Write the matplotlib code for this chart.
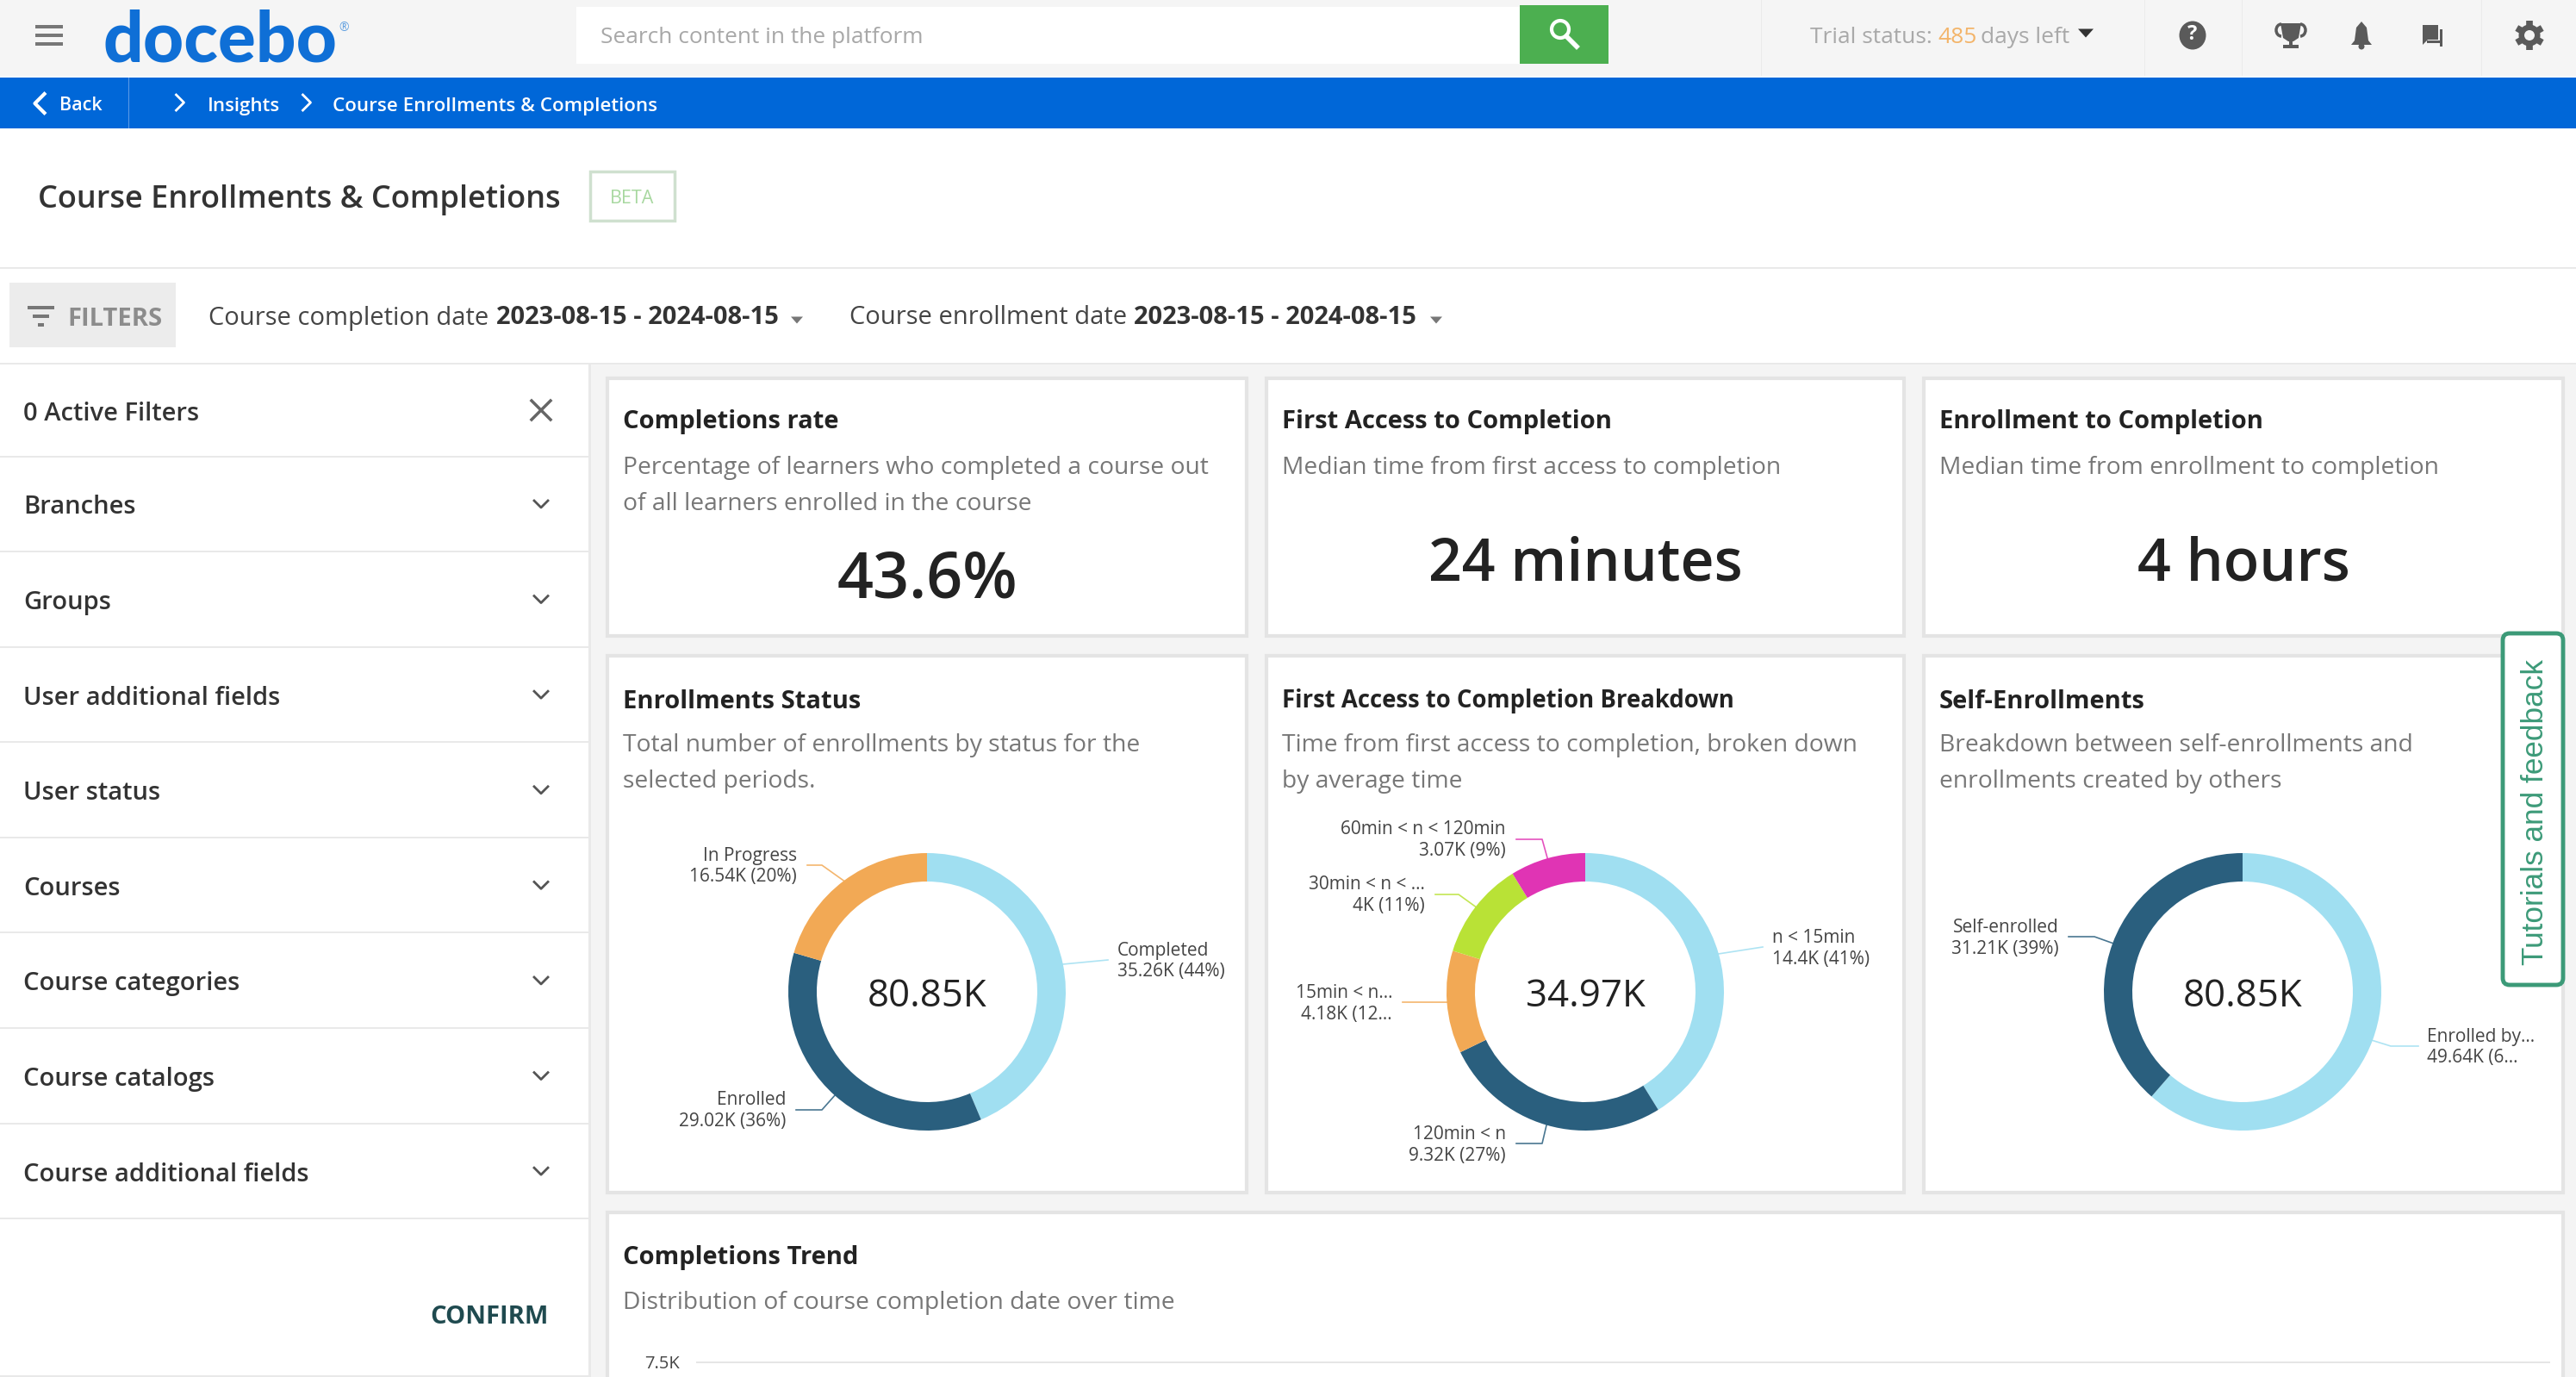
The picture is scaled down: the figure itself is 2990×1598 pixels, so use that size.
import matplotlib
matplotlib.use('Agg')
import matplotlib.pyplot as plt
import matplotlib.patches as mpatches
import numpy as np

W, H = 2990, 1598

# chart data
status_labels = ['Completed', 'Enrolled', 'In Progress']
status_values = [35.26, 29.02, 16.54]
status_text = ['35.26K (44%)', '29.02K (36%)', '16.54K (20%)']

breakdown_labels = ['n < 15min', '120min < n', '15min < n...', '30min < n < ...', '60min < n < 120min']
breakdown_values = [14.4, 9.32, 4.18, 4.0, 3.07]
breakdown_text = ['14.4K (41%)', '9.32K (27%)', '4.18K (12...', '4K (11%)', '3.07K (9%)']

self_labels = ['Enrolled by...', 'Self-enrolled']
self_values = [49.64, 31.21]
self_text = ['49.64K (6...', '31.21K (39%)']

sidebar_items = ['Branches', 'Groups', 'User additional fields', 'User status', 'Courses',
                 'Course categories', 'Course catalogs', 'Course additional fields']

LIGHT = '#a0dff1'
DARK = '#2a5f7e'
ORANGE = '#f2a955'
LIME = '#b9e236'
MAGENTA = '#e034b4'
BG = '#f4f4f4'
LINE = '#e9e9e9'
FONT = 'Open Sans'

plt.rcParams['font.family'] = [FONT, 'DejaVu Sans']

fig = plt.figure(figsize=(W / 100, H / 100), dpi=100, facecolor='white')
ax = fig.add_axes([0, 0, 1, 1])
ax.set_xlim(0, W)
ax.set_ylim(H, 0)
ax.axis('off')


def rect(x0, y0, x1, y1, fc, ec='none', lw=0, z=1):
    ax.add_patch(mpatches.Rectangle((x0, y0), x1 - x0, y1 - y0, fc=fc, ec=ec, lw=lw, zorder=z))


def txt(x, y, s, size, color='#333333', weight='normal', ha='left', **kw):
    # open sans sits a bit high with va=center, hence the +4
    return ax.text(x, y + 4, s, fontsize=size, color=color, fontweight=weight, ha=ha, va='center', zorder=5, **kw)


def chevron_down(x, y, c='#555555', s=8):
    ax.plot([x - s, x, x + s], [y - s / 2, y + s / 2, y - s / 2], color=c, lw=2, zorder=5)


def chevron_side(x, y, d=1, c='white', s=9, lw=2):
    ax.plot([x - d * s / 2, x + d * s / 2, x - d * s / 2], [y - s, y, y + s], color=c, lw=lw, zorder=5)


def tri_down(x, y, c='#666666', s=7):
    ax.add_patch(mpatches.Polygon([(x - s, y - s / 2), (x + s, y - s / 2), (x, y + s / 2 + 1)], fc=c, ec='none', zorder=5))


# page background pieces
rect(0, 0, W, 88, '#f5f5f5')
rect(0, 90, W, 149, '#0067d8')
rect(685, 422, W, H, BG)
rect(0, 310, W, 312, LINE)
rect(0, 421, W, 423, LINE)
rect(683, 422, 686, H, LINE)
rect(0, 1596, 685, H, LINE)

# top bar
for y in [31, 41, 51]:
    rect(41, y - 2, 73, y + 2, '#777777', z=3)
ax.text(119, 72, 'docebo', fontsize=59, color='#0f6fd6', fontweight='black', family='Lato',
        ha='left', va='baseline', zorder=5)
ax.text(399, 33, '®', fontsize=10, color='#5f9fe0', ha='center', va='center', zorder=5)
rect(669, 8, 1764, 74, 'white')
rect(1764, 6, 1867, 74, '#4caf50', z=2)
txt(697, 39, 'Search content in the platform', 18.9, '#a8a8a8')
ax.add_patch(mpatches.Circle((1811, 34), 10, fc='none', ec='white', lw=3, zorder=5))
ax.plot([1818, 1830], [42, 54], color='white', lw=4, zorder=5)

for x in [2044, 2489, 2602, 2880]:
    rect(x, 0, x + 1, 88, '#ebebeb', z=2)
txt(2101, 40, 'Trial status:', 19, '#a9a9a9')
txt(2249, 40, '485', 19, '#f3b469')
txt(2299, 40, 'days left', 19, '#a9a9a9')
tri_down(2421, 38, '#333333', 9)

# toolbar icons
ICON = '#5a5a5a'
ax.add_patch(mpatches.Ellipse((2545, 41), 31, 33, fc=ICON, ec='none', zorder=4))
txt(2545, 36, '?', 17, 'white', 'bold', ha='center')
ax.add_patch(mpatches.Polygon([(2647, 27), (2671, 27), (2668, 44), (2662, 48), (2656, 48), (2650, 44)], fc=ICON, ec='none', zorder=4))
ax.add_patch(mpatches.Arc((2648, 35), 12, 14, theta1=90, theta2=270, ec=ICON, lw=2.5, zorder=4))
ax.add_patch(mpatches.Arc((2670, 35), 12, 14, theta1=-90, theta2=90, ec=ICON, lw=2.5, zorder=4))
rect(2657, 47, 2661, 52, ICON, z=4)
rect(2650, 52, 2668, 56, ICON, z=4)
ax.add_patch(mpatches.Polygon([(2741, 25), (2747, 32), (2749, 47), (2753, 52), (2729, 52), (2733, 47), (2735, 32)], fc=ICON, ec='none', zorder=4))
ax.add_patch(mpatches.Circle((2741, 54), 3.5, fc=ICON, ec='none', zorder=4))
rect(2812, 29, 2830, 46, ICON, z=5)
ax.add_patch(mpatches.Polygon([(2812, 46), (2812, 52), (2818, 46)], fc=ICON, ec='none', zorder=5))
rect(2817, 47, 2835, 50, ICON, z=3)
rect(2832, 34, 2835, 54, ICON, z=3)
for a in np.arange(6) * np.pi / 3 + np.pi / 2:
    ax.plot([2936, 2936 + 17 * np.cos(a)], [41, 41 + 17 * np.sin(a)], color=ICON, lw=5.5, solid_capstyle='butt', zorder=4)
ax.add_patch(mpatches.Circle((2936, 41), 12.5, fc=ICON, ec='none', zorder=4))
ax.add_patch(mpatches.Circle((2936, 41), 6, fc='#f5f5f5', ec='none', zorder=5))

# blue bar
chevron_side(46, 120, d=-1, s=11, lw=3)
txt(69, 119, 'Back', 15.5, 'white', 'semibold')
rect(149, 90, 150, 149, '#5b9be6', z=3)
chevron_side(209, 119)
txt(241, 119, 'Insights', 16, 'white', 'semibold')
chevron_side(356, 119)
txt(386, 119, 'Course Enrollments & Completions', 16.1, 'white', 'semibold')

# page title
txt(44, 228, 'Course Enrollments & Completions', 26, '#333333', 'semibold')
ax.add_patch(mpatches.Rectangle((685, 199), 98, 57, fc='white', ec='#cfe0cf', lw=2.5, zorder=3))
txt(734, 227, 'BETA', 15.5, '#a8d8a0', ha='center')

# filter row
rect(11, 328, 204, 403, '#ececec', z=2)
for x0, x1, y in [(32, 63, 357), (38, 57, 367), (44, 51, 377)]:
    rect(x0, y - 2, x1, y + 2, '#777777', z=3)
txt(78, 366, 'FILTERS', 21, '#8c8c8c', 'bold')
txt(242, 365, 'Course completion date', 21, '#444444')
txt(576, 365, '2023-08-15 - 2024-08-15', 21, '#333333', 'bold')
tri_down(925, 371, '#777777', 7)
txt(986, 365, 'Course enrollment date', 21, '#444444')
txt(1316, 365, '2023-08-15 - 2024-08-15', 21, '#333333', 'bold')
tri_down(1667, 371, '#777777', 7)

# sidebar
txt(27, 476, '0 Active Filters', 21, '#333333', 'semibold')
ax.plot([617, 639], [465, 487], color='#666666', lw=2.5, zorder=5)
ax.plot([617, 639], [487, 465], color='#666666', lw=2.5, zorder=5)
rect(0, 529, 685, 531, LINE)
for i, item in enumerate(sidebar_items):
    y = 585 + i * 110.6
    txt(27, y, item, 21, '#333333', 'semibold')
    chevron_down(628, y)
    rect(0, y + 54, 685, y + 56, LINE)
txt(637, 1524, 'CONFIRM', 21, '#1f4a4f', 'bold', ha='right')


# cards
def card(x0, y0, x1, y1):
    ax.add_patch(mpatches.Rectangle((x0, y0), x1 - x0, y1 - y0, fc='white', ec='#e4e4e4', lw=3, zorder=2))


columns = [(705, 1447), (1470, 2210), (2233, 2975)]
top_titles = ['Completions rate', 'First Access to Completion', 'Enrollment to Completion']
top_desc = [['Percentage of learners who completed a course out', 'of all learners enrolled in the course'],
            ['Median time from first access to completion'],
            ['Median time from enrollment to completion']]
top_big = ['43.6%', '24 minutes', '4 hours']
top_big_y = [671, 652, 652]
top_big_size = [53, 49, 49]
mid_titles = ['Enrollments Status', 'First Access to Completion Breakdown', 'Self-Enrollments']
mid_title_size = [21, 19.8, 21]
mid_desc = [['Total number of enrollments by status for the', 'selected periods.'],
            ['Time from first access to completion, broken down', 'by average time'],
            ['Breakdown between self-enrollments and', 'enrollments created by others']]

for c, (x0, x1) in enumerate(columns):
    card(x0, 439, x1, 738)
    txt(x0 + 18, 486, top_titles[c], 21, '#222222', 'bold')
    for j, line in enumerate(top_desc[c]):
        txt(x0 + 18, 539 + j * 42, line, 20.3, '#777777')
    txt((x0 + x1) / 2, top_big_y[c], top_big[c], top_big_size[c], '#222222', 'semibold', ha='center')

    card(x0, 761, x1, 1384)
    txt(x0 + 18, 810, mid_titles[c], mid_title_size[c], '#222222', 'bold')
    for j, line in enumerate(mid_desc[c]):
        txt(x0 + 18, 861 + j * 42, line, 20.3, '#777777')

ax.add_patch(mpatches.Rectangle((705, 1407), 2270, 300, fc='white', ec='#e4e4e4', lw=3, zorder=2))
txt(723, 1455, 'Completions Trend', 21, '#222222', 'bold')
txt(723, 1508, 'Distribution of course completion date over time', 20.3, '#777777')
txt(748, 1579, '7.5K', 14.5, '#444444')
rect(808, 1580, 2960, 1582, '#e6e6e6', z=3)

# donuts
R = 161
RING = 33


def donut(cx, cy, values, colors, names, amounts, total, anchors):
    dax = fig.add_axes([(cx - R) / W, 1 - (cy + R) / H, 2 * R / W, 2 * R / H])
    wedges, _ = dax.pie(values, colors=colors, startangle=90, counterclock=False, radius=1,
                        wedgeprops=dict(width=RING / R, linewidth=0))
    dax.set_xlim(-1, 1)
    dax.set_ylim(-1, 1)
    txt(cx, cy + 2, total, 31.5, '#222222', 'medium', ha='center')
    for w, name, amount, a in zip(wedges, names, amounts, anchors):
        mid = np.radians((w.theta1 + w.theta2) / 2)
        sx = cx + R * np.cos(mid)
        sy = cy - R * np.sin(mid)
        ex, ey, elbow_x, tx, ha = a
        xs, ys = ([sx, ex], [sy, ey]) if elbow_x is None else ([sx, elbow_x, ex], [sy, ey, ey])
        ax.plot(xs, ys, color=w.get_facecolor(), lw=1.2, alpha=0.85, zorder=4)
        txt(tx, ey - 15, name, 15, '#444444', ha=ha)
        txt(tx, ey + 10, amount, 15, '#444444', ha=ha)


# connector end x, end y, elbow x, text x, text alignment
donut(1076, 1151, status_values, [LIGHT, DARK, ORANGE], status_labels, status_text, '80.85K',
      [(1286, 1114, None, 1297, 'left'),
       (924, 1288, 954, 912, 'right'),
       (937, 1004, 954, 925, 'right')])
donut(1840, 1151, breakdown_values, [LIGHT, DARK, ORANGE, LIME, MAGENTA], breakdown_labels, breakdown_text, '34.97K',
      [(2046, 1099, None, 2057, 'left'),
       (1760, 1327, 1790, 1748, 'right'),
       (1628, 1163, None, 1616, 'right'),
       (1666, 1038, 1693, 1654, 'right'),
       (1760, 974, 1790, 1748, 'right')])
donut(2603, 1151, self_values, [LIGHT, DARK], self_labels, self_text, '80.85K',
      [(2807, 1214, 2775, 2817, 'left'),
       (2401, 1087, 2431, 2390, 'right')])

# feedback tab
ax.add_patch(mpatches.FancyBboxPatch((2905, 735), 70, 408, boxstyle='round,pad=0,rounding_size=8',
                                     fc='white', ec='#3c9a78', lw=3.5, zorder=6))
ax.text(2942, 942, 'Tutorials and feedback', fontsize=25.3, color='#3c9a78', rotation=90,
        ha='center', va='center', family='Liberation Sans', zorder=7)

fig.savefig('out.png', dpi=100)
